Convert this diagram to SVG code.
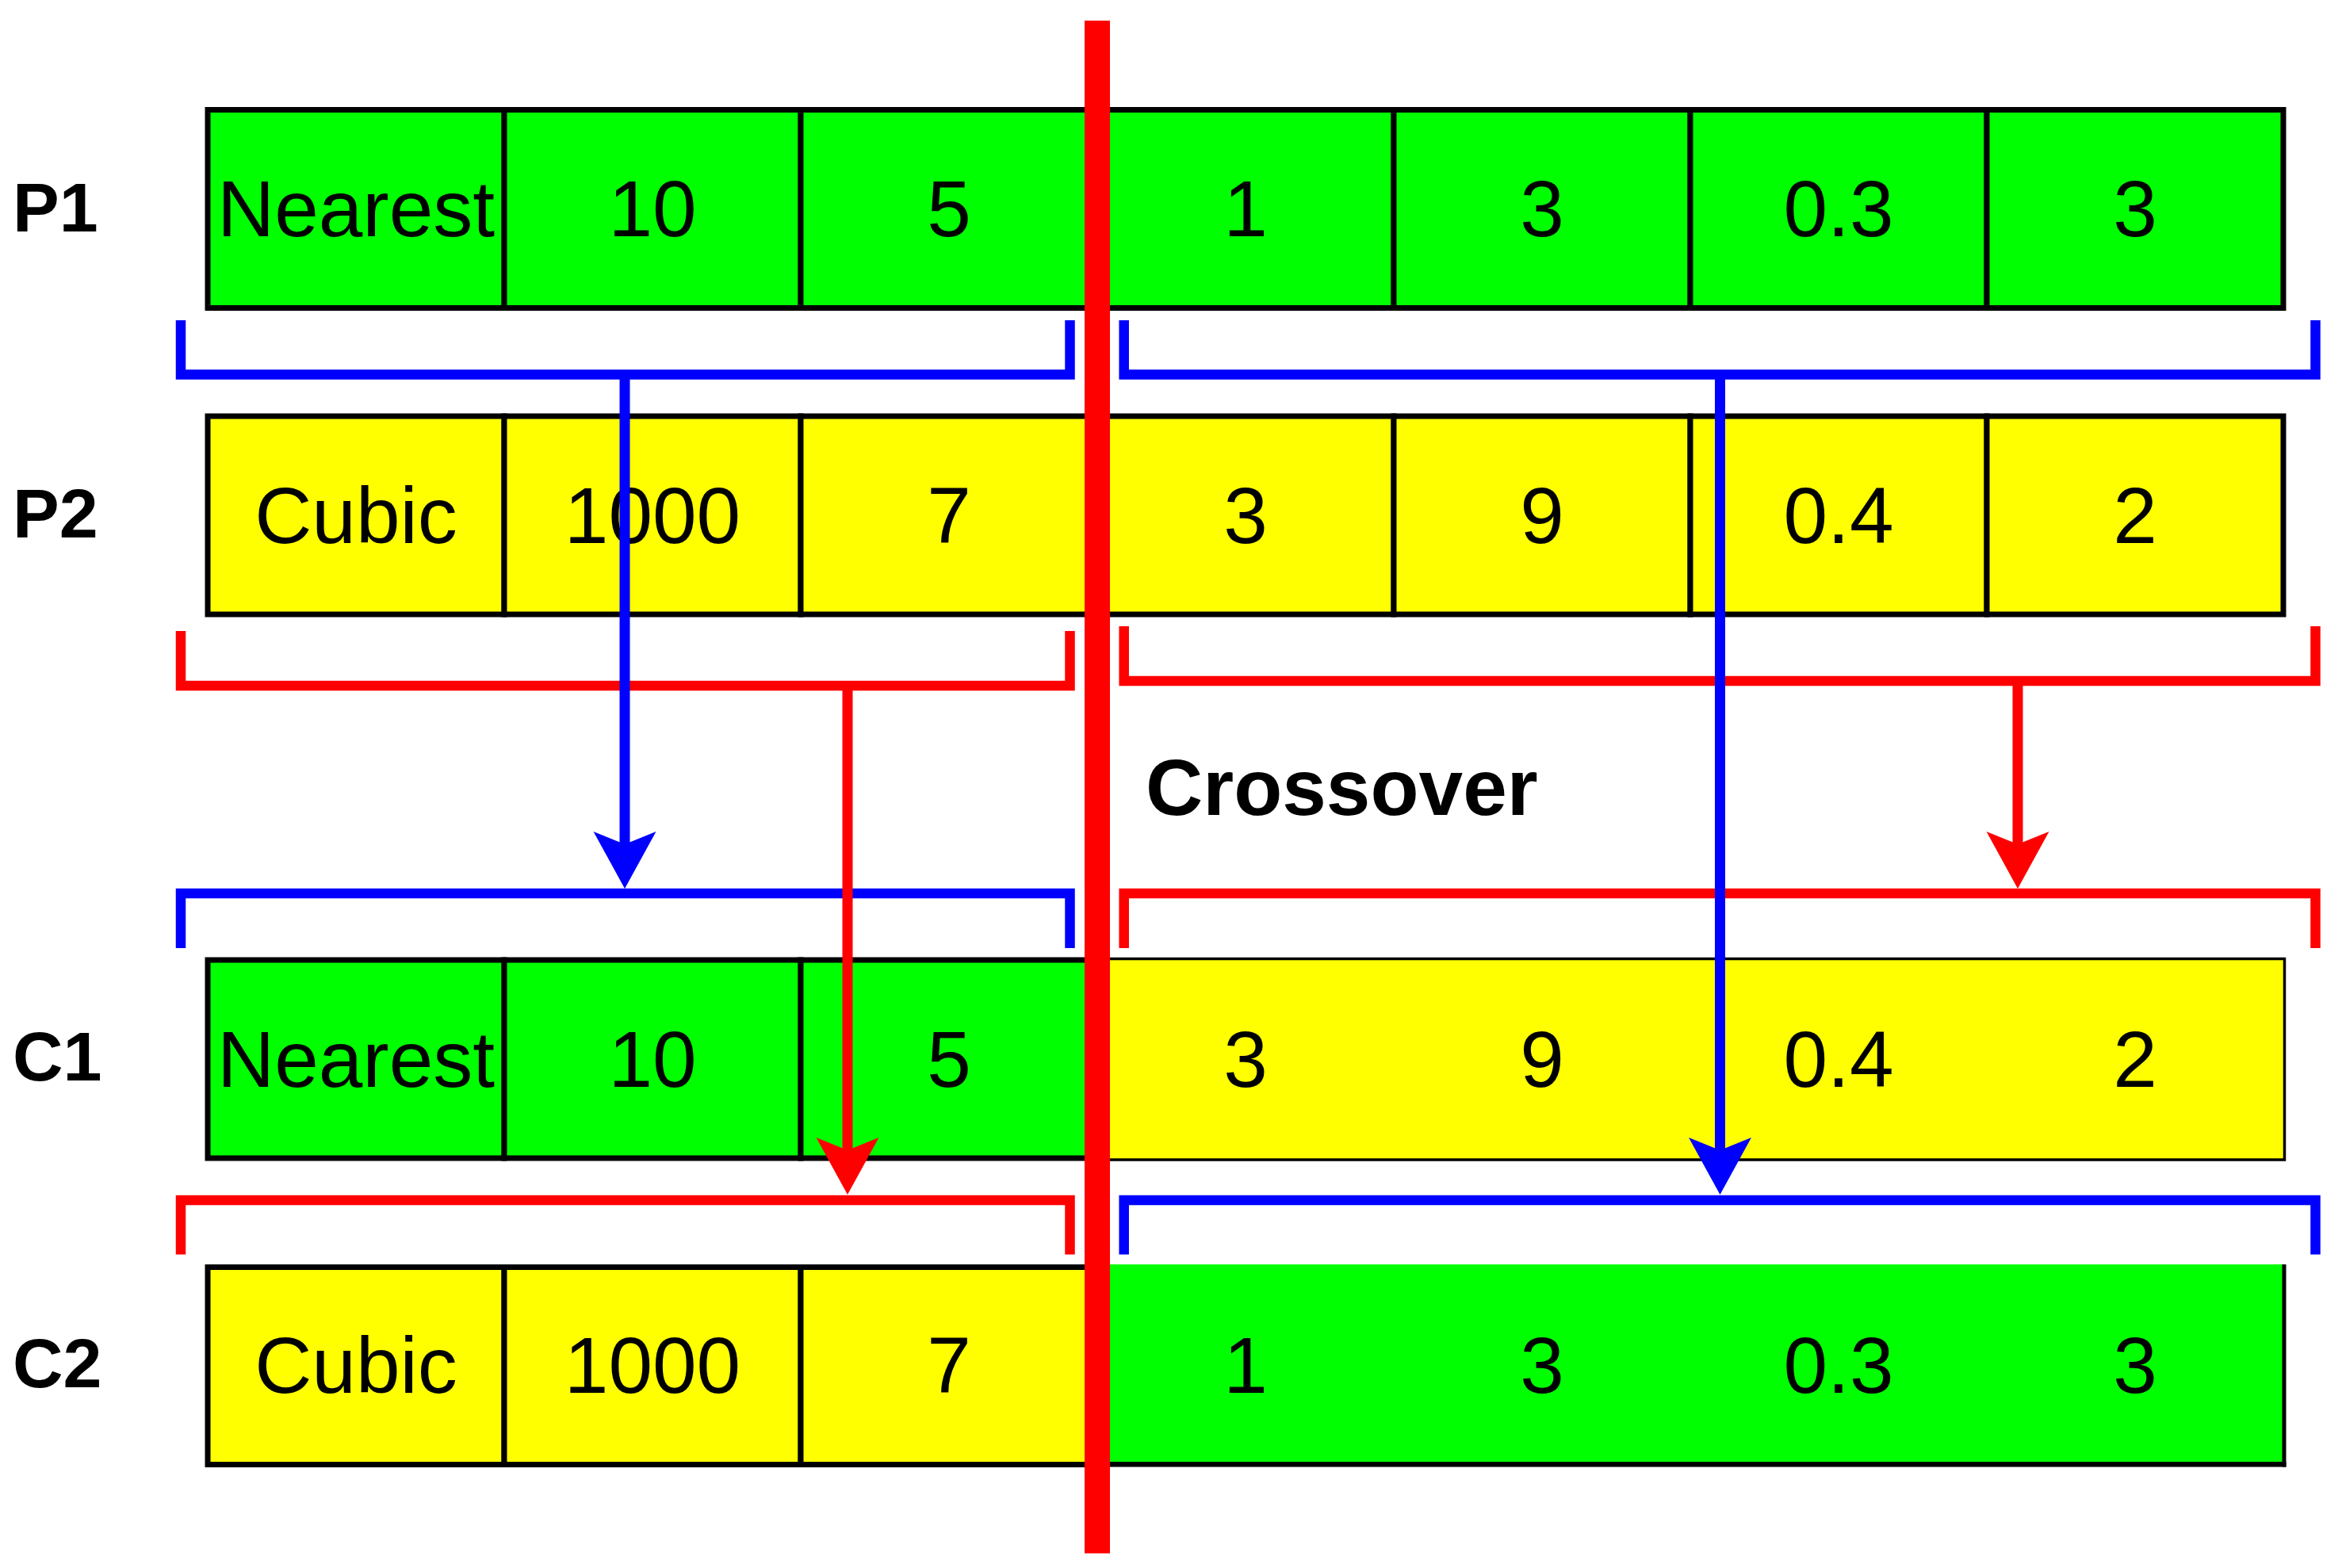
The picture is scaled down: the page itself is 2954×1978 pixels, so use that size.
<svg xmlns="http://www.w3.org/2000/svg" width="2954" height="1978" viewBox="0 0 2954 1978">
<style>
.cell{stroke:#000;stroke-width:7}
.g{fill:#00FF00}
.y{fill:#FFFF00}
.t{font-family:"Liberation Sans",Arial,sans-serif;font-size:100px;text-anchor:middle;fill:#000}
.lbl{font-family:"Liberation Sans",Arial,sans-serif;font-size:88px;font-weight:bold;fill:#000}
.br{fill:none;stroke-width:12.5;stroke-linejoin:miter;stroke-linecap:butt}
.stem{fill:none;stroke-width:13}
.blue{stroke:#0000FF}
.red{stroke:#FF0000}
</style>
<defs>
<path id="ah" d="M0,0 L-39.5,-72 L0,-56 L39.5,-72 Z"/>
</defs>
<rect width="2954" height="1978" fill="#FFFFFF"/>

<g id="P1">
<rect class="cell g" x="262" y="138.5" width="374" height="250"/>
<rect class="cell g" x="636" y="138.5" width="374" height="250"/>
<rect class="cell g" x="1010" y="138.5" width="374" height="250"/>
<rect class="cell g" x="1384" y="138.5" width="374" height="250"/>
<rect class="cell g" x="1758" y="138.5" width="374" height="250"/>
<rect class="cell g" x="2132" y="138.5" width="374" height="250"/>
<rect class="cell g" x="2506" y="138.5" width="374" height="250"/>
<text class="t" x="449" y="298">Nearest</text>
<text class="t" x="823" y="298">10</text>
<text class="t" x="1197" y="298">5</text>
<text class="t" x="1571" y="298">1</text>
<text class="t" x="1945" y="298">3</text>
<text class="t" x="2319" y="298">0.3</text>
<text class="t" x="2693" y="298">3</text>
</g>

<g id="P2">
<rect class="cell y" x="262" y="525" width="374" height="250"/>
<rect class="cell y" x="636" y="525" width="374" height="250"/>
<rect class="cell y" x="1010" y="525" width="374" height="250"/>
<rect class="cell y" x="1384" y="525" width="374" height="250"/>
<rect class="cell y" x="1758" y="525" width="374" height="250"/>
<rect class="cell y" x="2132" y="525" width="374" height="250"/>
<rect class="cell y" x="2506" y="525" width="374" height="250"/>
<text class="t" x="449" y="685">Cubic</text>
<text class="t" x="823" y="685">1000</text>
<text class="t" x="1197" y="685">7</text>
<text class="t" x="1571" y="685">3</text>
<text class="t" x="1945" y="685">9</text>
<text class="t" x="2319" y="685">0.4</text>
<text class="t" x="2693" y="685">2</text>
</g>

<g id="C1">
<rect class="y" x="1384" y="1209.5" width="1497.5" height="253.5" stroke="#000" stroke-width="3.5"/>
<rect class="cell g" x="262" y="1211" width="374" height="250"/>
<rect class="cell g" x="636" y="1211" width="374" height="250"/>
<rect class="cell g" x="1010" y="1211" width="374" height="250"/>
<text class="t" x="449" y="1371">Nearest</text>
<text class="t" x="823" y="1371">10</text>
<text class="t" x="1197" y="1371">5</text>
<text class="t" x="1571" y="1371">3</text>
<text class="t" x="1945" y="1371">9</text>
<text class="t" x="2319" y="1371">0.4</text>
<text class="t" x="2693" y="1371">2</text>
</g>

<g id="C2">
<rect class="g" x="1384" y="1595" width="1497" height="252"/>
<line x1="1384" y1="1847.3" x2="2883.5" y2="1847.3" stroke="#000" stroke-width="6.5"/>
<line x1="2881" y1="1595" x2="2881" y2="1850.5" stroke="#000" stroke-width="5"/>
<rect class="cell y" x="262" y="1598.5" width="374" height="249"/>
<rect class="cell y" x="636" y="1598.5" width="374" height="249"/>
<rect class="cell y" x="1010" y="1598.5" width="374" height="249"/>
<text class="t" x="449" y="1757">Cubic</text>
<text class="t" x="823" y="1757">1000</text>
<text class="t" x="1197" y="1757">7</text>
<text class="t" x="1571" y="1757">1</text>
<text class="t" x="1945" y="1757">3</text>
<text class="t" x="2319" y="1757">0.3</text>
<text class="t" x="2693" y="1757">3</text>
</g>

<g id="connectors">
<path class="br blue" d="M228,404 V472.5 H1349.5 V404"/>
<path class="br blue" d="M1417.7,404 V472.5 H2920.5 V404"/>
<path class="br red" d="M228,796 V865 H1349.5 V796"/>
<path class="br red" d="M1417.7,790 V859 H2920.5 V790"/>
<path class="br blue" d="M228,1196 V1127 H1349.5 V1196"/>
<path class="br red" d="M1417.7,1196 V1127 H2920.5 V1196"/>
<path class="br red" d="M228,1582.5 V1514 H1349.5 V1582.5"/>
<path class="br blue" d="M1417.7,1582.5 V1514 H2920.5 V1582.5"/>

<line class="stem red" x1="1069" y1="865" x2="1069" y2="1453"/>
<use href="#ah" x="1069" y="1507" fill="#FF0000"/>
<line class="stem red" x1="2545" y1="859" x2="2545" y2="1066"/>
<use href="#ah" x="2545" y="1121" fill="#FF0000"/>
<line class="stem blue" x1="788" y1="472.5" x2="788" y2="1066"/>
<use href="#ah" x="788" y="1121" fill="#0000FF"/>
<line class="stem blue" x1="2169.5" y1="472.5" x2="2169.5" y2="1453"/>
<use href="#ah" x="2169.5" y="1507" fill="#0000FF"/>
</g>

<g id="crossover-line">
<rect x="1368" y="26" width="32" height="1933.5" fill="#FF0000"/>
</g>

<g id="labels">
<text class="lbl" x="16" y="292">P1</text>
<text class="lbl" x="16" y="678">P2</text>
<text class="lbl" x="16" y="1363">C1</text>
<text class="lbl" x="16" y="1750">C2</text>
<text class="lbl" x="1445" y="1028" style="font-size:100px">Crossover</text>
</g>
</svg>
